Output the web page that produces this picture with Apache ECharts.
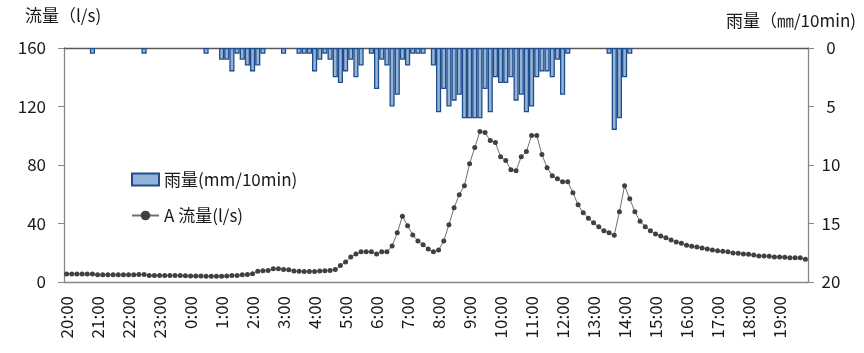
<!DOCTYPE html>
<html>
<head>
<meta charset="utf-8">
<script src="https://cdn.jsdelivr.net/npm/echarts@6/dist/echarts.min.js"></script>
<style>
html,body{margin:0;padding:0;background:#fff;}
#chart{width:864px;height:353px;}
</style>
</head>
<body>
<div id="chart"></div>
<script>
// 10分ごとの時刻 (20:00 - 19:50)
var startHour = 20;
var timeLabels = [];
for (var k = 0; k < 144; k++) {
    var h = (startHour + Math.floor(k / 6)) % 24;
    var m = (k % 6) * 10;
    timeLabels.push(h + ':' + (m < 10 ? '0' + m : m));
}

// 雨量(mm/10min)
var rainfall = [
    0, 0, 0, 0, 0, 0.5, 0, 0, 0, 0, 0, 0, 0, 0, 0, 0.5, 0, 0, 0, 0, 0, 0, 0, 0,
    0, 0, 0, 0.5, 0, 0, 1.0, 1.0, 2.0, 0.5, 1.0, 1.5, 2.0, 1.5, 0.5, 0, 0, 0, 0.5, 0, 0, 0.5, 0.5, 0.5,
    2.0, 1.0, 0.5, 1.0, 2.5, 3.0, 2.0, 1.0, 2.5, 1.5, 0, 0.5, 3.5, 1.0, 1.5, 5.0, 4.0, 1.0, 1.5, 0.5, 0.5, 0.5, 0, 1.5,
    5.5, 3.5, 5.0, 4.5, 4.0, 6.0, 6.0, 6.0, 6.0, 3.5, 5.5, 2.5, 3.0, 3.0, 2.5, 4.5, 4.0, 5.5, 5.0, 2.5, 2.0, 2.0, 2.5, 1.0,
    4.0, 0.5, 0, 0, 0, 0, 0, 0, 0, 0.5, 7.0, 6.0, 2.5, 0.5, 0, 0, 0, 0, 0, 0, 0, 0, 0, 0,
    0, 0, 0, 0, 0, 0, 0, 0, 0, 0, 0, 0, 0, 0, 0, 0, 0, 0, 0, 0, 0, 0, 0, 0
];

// A 流量(l/s)
var flowA = [
    5.5, 5.5, 5.5, 5.5, 5.4, 5.4, 5.0, 5.0, 4.9, 4.9, 4.9, 4.9, 4.9, 4.9, 5.2, 5.1, 4.5, 4.4, 4.4, 4.4, 4.4, 4.4, 4.4, 4.3,
    4.1, 4.1, 4.1, 4.0, 4.0, 4.0, 4.0, 4.1, 4.4, 4.5, 5.0, 5.1, 5.7, 7.4, 7.7, 7.8, 9.1, 9.0, 8.6, 8.4, 7.6, 7.3, 7.2, 7.2,
    7.2, 7.6, 7.7, 7.8, 8.5, 11.2, 13.7, 17.1, 19.2, 20.6, 20.6, 20.6, 19.2, 20.6, 20.6, 24.7, 33.6, 45.0, 38.4, 32.2, 28.1, 25.4, 22.6, 20.6,
    21.9, 28.1, 39.1, 50.7, 59.7, 65.8, 80.9, 91.9, 102.9, 102.2, 96.7, 95.3, 85.7, 83.0, 76.8, 76.1, 85.7, 89.2, 100.1, 100.1, 87.1, 78.2, 72.7, 70.6,
    68.6, 68.6, 61.0, 52.8, 47.3, 43.6, 40.5, 37.7, 35.0, 33.6, 32.0, 48.0, 65.8, 56.9, 48.0, 41.6, 37.7, 35.0, 32.9, 31.5, 30.2, 28.8, 27.4, 26.5,
    25.1, 24.4, 24.0, 23.3, 22.6, 21.9, 21.3, 21.0, 20.6, 19.9, 19.6, 19.2, 18.9, 18.5, 17.8, 17.8, 17.6, 17.1, 17.1, 16.9, 16.5, 16.5, 16.5, 15.5
];

var fontFamily = '"Noto Sans CJK JP", "Noto Sans", sans-serif';
var textColor = '#1a1a1a';
var axisGray = '#868686';

// 雨量0の区間は棒を描かない
var rainBars = rainfall.map(function (v) { return v === 0 ? '-' : v; });

var chart = echarts.init(document.getElementById('chart'));
var option = {
    animation: false,
    textStyle: { fontFamily: fontFamily, color: textColor },
    title: [
        { text: '流量（l/s)', left: 20, top: 2,
          textStyle: { fontSize: 17, fontWeight: 'normal', color: textColor, fontFamily: fontFamily } },
        { text: '雨量（㎜/10min)', right: 3, top: 7,
          textStyle: { fontSize: 17, fontWeight: 'normal', color: textColor, fontFamily: fontFamily } }
    ],
    legend: {
        orient: 'vertical',
        left: 126,
        top: 166,
        itemWidth: 27,
        itemHeight: 12,
        itemGap: 19,
        textStyle: { fontSize: 17, color: textColor, fontFamily: fontFamily },
        data: [
            { name: '雨量(mm/10min)', icon: 'rect' },
            { name: 'A 流量(l/s)' }
        ]
    },
    grid: {
        left: 64, right: 56, top: 48, bottom: 71,
        outerBoundsMode: 'none'
    },
    xAxis: [{
        type: 'category',
        data: timeLabels,
        boundaryGap: true,
        axisLine: { lineStyle: { color: axisGray, width: 1.3 } },
        axisTick: { interval: 0, length: 6, lineStyle: { color: axisGray } },
        axisLabel: {
            interval: 5, rotate: 90, margin: 14,
            fontSize: 17, color: textColor, fontFamily: fontFamily
        },
        splitLine: { show: false }
    }, {
        type: 'category',
        data: timeLabels,
        position: 'top',
        boundaryGap: true,
        axisLine: { lineStyle: { color: '#595959', width: 1.3 } },
        axisTick: { show: false },
        axisLabel: { show: false },
        splitLine: { show: false }
    }],
    yAxis: [{
        type: 'value',
        min: 0, max: 160, interval: 40,
        position: 'left',
        axisLine: { show: true, lineStyle: { color: axisGray, width: 1.3 } },
        axisTick: { show: true, length: 6, lineStyle: { color: axisGray } },
        axisLabel: { margin: 18, fontSize: 17, color: textColor, fontFamily: fontFamily },
        splitLine: { show: false }
    }, {
        type: 'value',
        min: 0, max: 20, interval: 5,
        inverse: true,
        position: 'right',
        axisLine: { show: true, lineStyle: { color: axisGray, width: 1.3 } },
        axisTick: { show: true, length: 6, lineStyle: { color: axisGray } },
        axisLabel: { margin: 23, align: 'center', fontSize: 17, color: textColor, fontFamily: fontFamily },
        splitLine: { show: false }
    }],
    series: [{
        name: '雨量(mm/10min)',
        type: 'bar',
        xAxisIndex: 1,
        yAxisIndex: 1,
        data: rainBars,
        barCategoryGap: '0%',
        itemStyle: { color: '#95b3d7', borderColor: '#1f4e8c', borderWidth: 1.3 }
    }, {
        name: 'A 流量(l/s)',
        type: 'line',
        xAxisIndex: 0,
        yAxisIndex: 0,
        data: flowA,
        symbol: 'circle',
        symbolSize: 5,
        showAllSymbol: true,
        itemStyle: { color: '#404040' },
        lineStyle: { color: '#6e6e6e', width: 1 }
    }]
};
chart.setOption(option);
</script>
</body>
</html>
